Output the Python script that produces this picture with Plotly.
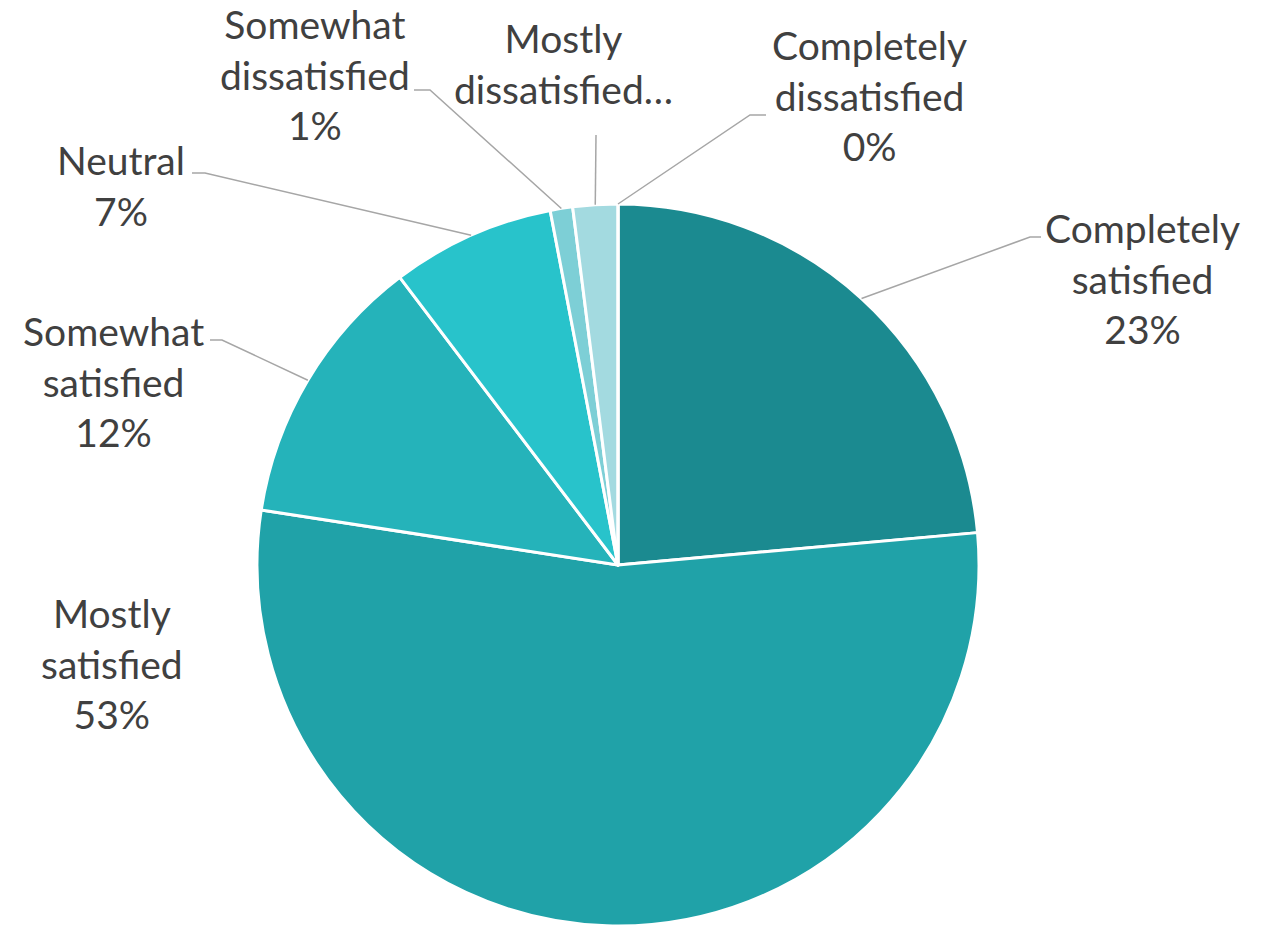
import math
import plotly.graph_objects as go

# ---- data ----
categories = ["Completely satisfied", "Mostly satisfied", "Somewhat satisfied", "Neutral",
              "Somewhat dissatisfied", "Mostly dissatisfied", "Completely dissatisfied"]
values = [23.5, 53.7, 12.2, 7.3, 1.0, 2.0, 0.0]
label_texts = ["Completely<br>satisfied<br>23%", "Mostly<br>satisfied<br>53%",
               "Somewhat<br>satisfied<br>12%", "Neutral<br>7%",
               "Somewhat<br>dissatisfied<br>1%", "Mostly<br>dissatisfied…",
               "Completely<br>dissatisfied<br>0%"]
colors = ["#1B8A90", "#20A2A8", "#25B3BA", "#28C3CB", "#7DCFD6", "#A3DAE0", "#C5E8EB"]

W, H = 1271, 926
CX, CY, R = 618, 565, 361

# label block centres (px) and leader elbows (px): None => no leader line
label_pos = [(1142, 278), (112, 663), (113, 381), (121, 186), (315, 75), (563, 64), (869, 95)]
elbows = [((1030, 237), (1041, 237)), None, ((222, 340), (210, 340)), ((205, 173), (192, 173)),
          ((430, 90), (414, 90)), ((596, 135), (596, 135)), ((750, 115), (766, 115))]

fig = go.Figure(go.Pie(
    labels=categories, values=values, sort=False, direction="clockwise", rotation=0,
    marker=dict(colors=colors, line=dict(color="white", width=3)),
    textinfo="none", hoverinfo="label+percent", showlegend=False,
    domain=dict(x=[(CX - R) / W, (CX + R) / W], y=[0, 2 * R / H]),
))

def px(x, y):
    return x / W, 1 - y / H

total = sum(values)
cum = 0.0
shapes = []
annotations = []
for i, v in enumerate(values):
    mid = (cum + v / 2) / total * 2 * math.pi
    cum += v
    ex, ey = CX + R * math.sin(mid), CY - R * math.cos(mid)
    if elbows[i] is not None:
        (bx, by), (tx, ty) = elbows[i]
        p0, p1, p2 = px(ex, ey), px(bx, by), px(tx, ty)
        shapes.append(dict(type="path", xref="paper", yref="paper",
                           path=f"M {p0[0]},{p0[1]} L {p1[0]},{p1[1]} L {p2[0]},{p2[1]}",
                           line=dict(color="#A6A6A6", width=1.5)))
    lx, ly = px(*label_pos[i])
    annotations.append(dict(x=lx, y=ly, xref="paper", yref="paper", text=label_texts[i],
                            showarrow=False, xanchor="center", yanchor="middle", align="center",
                            font=dict(family="Lato", size=39, color="#404040")))

fig.update_layout(width=W, height=H, margin=dict(l=0, r=0, t=0, b=0),
                  paper_bgcolor="white", plot_bgcolor="white",
                  shapes=shapes, annotations=annotations)
fig.write_html("out.html", config={"displayModeBar": False},
               post_script="document.body.style.margin='0';")
